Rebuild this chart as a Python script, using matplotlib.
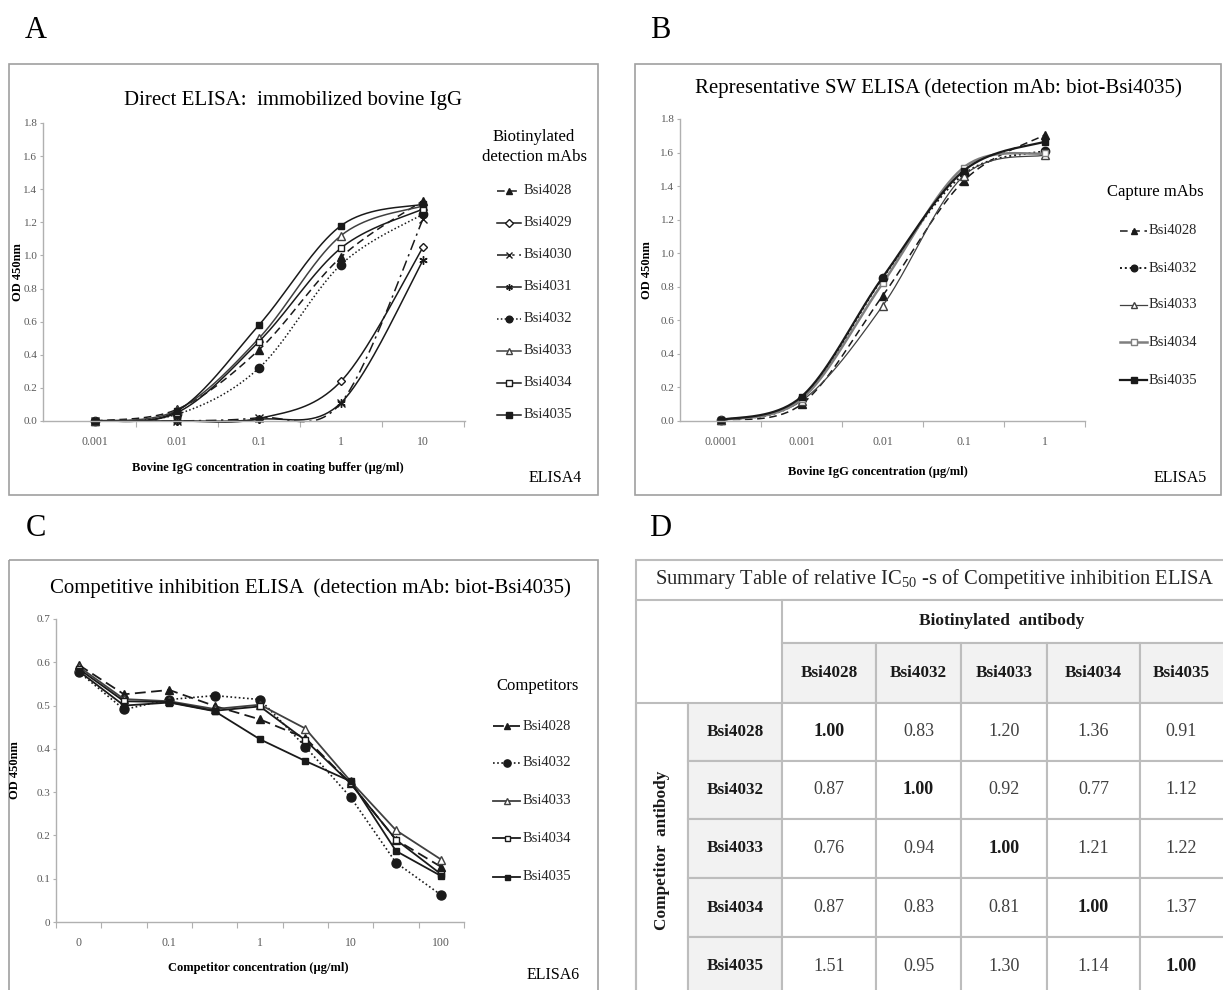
import numpy as np
import matplotlib
matplotlib.use('Agg')
import matplotlib.pyplot as plt
from matplotlib.lines import Line2D
from matplotlib.patches import Rectangle
from matplotlib.ticker import FixedLocator, NullFormatter, FixedFormatter

plt.rcParams['font.family'] = ['Liberation Serif', 'DejaVu Serif']
plt.rcParams['mathtext.fontset'] = 'custom'
plt.rcParams['mathtext.rm'] = 'Liberation Serif'

W, H = 1223, 990

# ---------------- data ----------------
# Panel A: direct ELISA
conc_a = [0.001, 0.01, 0.1, 1, 10]
a_4028 = [0.0, 0.07, 0.43, 0.99, 1.33]
a_4029 = [0.0, 0.0, 0.015, 0.24, 1.05]
a_4030 = [0.0, 0.0, 0.02, 0.11, 1.22]
a_4031 = [0.0, 0.0, 0.01, 0.11, 0.97]
a_4032 = [0.0, 0.04, 0.32, 0.945, 1.25]
a_4033 = [0.0, 0.065, 0.50, 1.12, 1.30]
a_4034 = [0.0, 0.05, 0.48, 1.045, 1.28]
a_4035 = [0.0, 0.06, 0.58, 1.18, 1.31]
a_xticklabels = ['0.001', '0.01', '0.1', '1', '10']

# Panel B: sandwich ELISA
conc_b = [0.0001, 0.001, 0.01, 0.1, 1]
b_4028 = [0.005, 0.10, 0.745, 1.43, 1.705]
b_4032 = [0.005, 0.13, 0.85, 1.47, 1.61]
b_4033 = [0.005, 0.12, 0.685, 1.46, 1.585]
b_4034 = [0.005, 0.13, 0.82, 1.51, 1.595]
b_4035 = [0.005, 0.145, 0.855, 1.49, 1.665]
b_xticklabels = ['0.0001', '0.001', '0.01', '0.1', '1']

# Panel C: competitive inhibition ELISA
cat_c = ['0', '0.03', '0.1', '0.3', '1', '3', '10', '30', '100']
c_4028 = [0.594, 0.526, 0.536, 0.499, 0.468, 0.425, 0.320, 0.190, 0.127]
c_4032 = [0.578, 0.491, 0.514, 0.523, 0.514, 0.405, 0.288, 0.137, 0.062]
c_4033 = [0.590, 0.515, 0.510, 0.492, 0.502, 0.447, 0.325, 0.212, 0.144]
c_4034 = [0.585, 0.510, 0.508, 0.488, 0.498, 0.420, 0.320, 0.190, 0.110]
c_4035 = [0.580, 0.500, 0.507, 0.487, 0.422, 0.372, 0.325, 0.164, 0.106]
c_shown_labels = ['0', '0.1', '1', '10', '100']

# Panel D: table
tbl_cols = ['Bsi4028', 'Bsi4032', 'Bsi4033', 'Bsi4034', 'Bsi4035']
tbl_rows = ['Bsi4028', 'Bsi4032', 'Bsi4033', 'Bsi4034', 'Bsi4035']
ic50 = [[1.00, 0.83, 1.20, 1.36, 0.91],
        [0.87, 1.00, 0.92, 0.77, 1.12],
        [0.76, 0.94, 1.00, 1.21, 1.22],
        [0.87, 0.83, 0.81, 1.00, 1.37],
        [1.51, 0.95, 1.30, 1.14, 1.00]]

# ---------------- styles ----------------
K = '#1a1a1a'
GR = '#7f7f7f'
styles_a = {
    'Bsi4028': dict(ls=(0, (5, 3)), marker='^', mfc=K, color=K, ms=6),
    'Bsi4029': dict(ls='-', marker='D', mfc='white', color=K, ms=4.5),
    'Bsi4030': dict(ls=(0, (7, 3, 1.5, 3)), marker='x', mfc=K, color=K, ms=6),
    'Bsi4031': dict(ls='-', marker=(6, 2, 0), mfc=K, color=K, ms=6),
    'Bsi4032': dict(ls=(0, (1, 1.5)), marker='o', mfc=K, color=K, ms=6),
    'Bsi4033': dict(ls='-', marker='^', mfc='white', color='#404040', ms=6),
    'Bsi4034': dict(ls='-', marker='s', mfc='white', color=K, ms=5),
    'Bsi4035': dict(ls='-', marker='s', mfc=K, color=K, ms=5),
}
styles_b = {
    'Bsi4028': dict(ls=(0, (5, 3)), marker='^', mfc=K, color=K, ms=6, lw=1.1),
    'Bsi4032': dict(ls=(0, (1, 1.5)), marker='o', mfc=K, color=K, ms=6, lw=1.4),
    'Bsi4033': dict(ls='-', marker='^', mfc='white', color='#404040', ms=6, lw=0.9),
    'Bsi4034': dict(ls='-', marker='s', mfc='white', color=GR, ms=5, lw=1.8),
    'Bsi4035': dict(ls='-', marker='s', mfc=K, color=K, ms=5, lw=1.6),
}
styles_c = {
    'Bsi4028': dict(ls=(0, (6, 3)), marker='^', mfc=K, color=K, ms=6, lw=1.3),
    'Bsi4032': dict(ls=(0, (1, 1.5)), marker='o', mfc=K, color=K, ms=6.5, lw=1.2),
    'Bsi4033': dict(ls='-', marker='^', mfc='white', color='#404040', ms=6, lw=1.3),
    'Bsi4034': dict(ls='-', marker='s', mfc='white', color=K, ms=4.5, lw=1.3),
    'Bsi4035': dict(ls='-', marker='s', mfc=K, color=K, ms=4.5, lw=1.3),
}

fig = plt.figure(figsize=(W / 100, H / 100), dpi=100)
fig.patch.set_facecolor('white')

def px_axes(l, t, r, b):
    return fig.add_axes([l / W, 1 - b / H, (r - l) / W, (b - t) / H])

# overlay for frames, texts, legends and the table (pixel coordinates)
ov = fig.add_axes([0, 0, 1, 1])
ov.set_xlim(0, W)
ov.set_ylim(H, 0)
ov.axis('off')
ov.set_zorder(0)

FRAME = '#a0a0a0'
TICKC = '#595959'
TITLE_FS = 15

def smooth(xl, ys, n=40):
    P = np.column_stack([xl, ys]).astype(float)
    out = []
    for i in range(len(P) - 1):
        p0 = P[i - 1] if i > 0 else P[i]
        p1, p2 = P[i], P[i + 1]
        p3 = P[i + 2] if i + 2 < len(P) else P[i + 1]
        t = np.linspace(0, 1, n)[:, None]
        c1 = p1 + (p2 - p0) / 6.0
        c2 = p2 - (p3 - p1) / 6.0
        seg = (1 - t) ** 3 * p1 + 3 * (1 - t) ** 2 * t * c1 + 3 * (1 - t) * t ** 2 * c2 + t ** 3 * p2
        out.append(seg if i == 0 else seg[1:])
    return np.vstack(out)

def style_axes(ax):
    ax.set_facecolor('none')
    for s in ['top', 'right']:
        ax.spines[s].set_visible(False)
    for s in ['left', 'bottom']:
        ax.spines[s].set_color('#b0b0b0')
        ax.spines[s].set_linewidth(1.0)
    ax.tick_params(axis='y', which='major', direction='out', length=2.5, width=0.8,
                   colors='#b0b0b0', labelcolor=TICKC, labelsize=8, pad=1.5)
    ax.tick_params(axis='x', which='major', length=0, labelcolor=TICKC, labelsize=8.5, pad=11)
    ax.tick_params(axis='x', which='minor', direction='out', length=4, width=0.8, colors='#b0b0b0')

def panel_frame(l, t, r, b):
    ov.add_patch(Rectangle((l, t), r - l, b - t, fill=False, ec=FRAME, lw=1.2))

def legend_entries(x0, x1, xt, ys, names, styles, fs=10.5):
    for y, nm in zip(ys, names):
        st = styles[nm]
        ov.add_line(Line2D([x0, x1], [y, y], ls=st['ls'], color=st['color'],
                           lw=st.get('lw', 1.1)))
        ov.add_line(Line2D([(x0 + x1) / 2], [y], ls='none', marker=st['marker'],
                           mfc=st['mfc'], mec=st['color'], ms=st['ms'] * 0.8, mew=1.0))
        ov.text(xt, y, nm, fontsize=fs, va='center', ha='left', color='#262626')

# ---------------- Panel A ----------------
panel_frame(9, 64, 598, 495)
ov.text(36, 30, 'A', fontsize=22, ha='center', va='center')
ov.text(293, 100, 'Direct ELISA:  immobilized bovine IgG', fontsize=TITLE_FS, ha='center', va='center')
axA = px_axes(43, 123, 465, 421)
style_axes(axA)
axA.set_xscale('log')
axA.set_xlim(10 ** -3.634, 10 ** 1.512)
axA.set_ylim(0, 1.8)
axA.set_yticks(np.arange(0, 1.81, 0.2))
axA.set_yticklabels([f'{v:.1f}' for v in np.arange(0, 1.81, 0.2)])
axA.xaxis.set_major_locator(FixedLocator(conc_a))
axA.xaxis.set_major_formatter(FixedFormatter(a_xticklabels))
axA.xaxis.set_minor_locator(FixedLocator([10 ** (k + 0.5) for k in range(-3, 2)]))
axA.xaxis.set_minor_formatter(NullFormatter())
series_a = [('Bsi4028', a_4028), ('Bsi4029', a_4029), ('Bsi4030', a_4030), ('Bsi4031', a_4031),
            ('Bsi4032', a_4032), ('Bsi4033', a_4033), ('Bsi4034', a_4034), ('Bsi4035', a_4035)]
for nm, ys in series_a:
    st = styles_a[nm]
    sm = smooth(np.log10(conc_a), ys)
    axA.plot(10 ** sm[:, 0], sm[:, 1], ls=st['ls'], color=st['color'], lw=1.1, clip_on=False)
    axA.plot(conc_a, ys, ls='none', marker=st['marker'], mfc=st['mfc'], mec=st['color'],
             ms=st['ms'], mew=1.0, clip_on=False)
ov.text(18, 272, 'OD 450nm', fontsize=9, fontweight='bold', rotation=90, ha='center', va='center')
ov.text(268, 468, 'Bovine IgG concentration in coating buffer (\u03bcg/ml)', fontsize=9,
        fontweight='bold', ha='center', va='center')
ov.text(555, 478, 'ELISA4', fontsize=11.5, ha='center', va='center')
ov.text(534, 137, 'Biotinylated', fontsize=12, ha='center', va='center')
ov.text(534, 157, 'detection mAbs', fontsize=12, ha='center', va='center')
legend_entries(497, 521, 524, [191, 223, 255, 287, 319, 351, 383, 415],
               [s[0] for s in series_a], styles_a)

# ---------------- Panel B ----------------
panel_frame(635, 64, 1221, 495)
ov.text(660, 30, 'B', fontsize=22, ha='center', va='center')
ov.text(938, 88, 'Representative SW ELISA (detection mAb: biot-Bsi4035)', fontsize=TITLE_FS,
        ha='center', va='center')
axB = px_axes(680, 119, 1085, 421)
style_axes(axB)
axB.set_xscale('log')
axB.set_xlim(10 ** -4.5, 10 ** 0.5)
axB.set_ylim(0, 1.8)
axB.set_yticks(np.arange(0, 1.81, 0.2))
axB.set_yticklabels([f'{v:.1f}' for v in np.arange(0, 1.81, 0.2)])
axB.xaxis.set_major_locator(FixedLocator(conc_b))
axB.xaxis.set_major_formatter(FixedFormatter(b_xticklabels))
axB.xaxis.set_minor_locator(FixedLocator([10 ** (k + 0.5) for k in range(-4, 1)]))
axB.xaxis.set_minor_formatter(NullFormatter())
series_b = [('Bsi4028', b_4028), ('Bsi4032', b_4032), ('Bsi4033', b_4033),
            ('Bsi4034', b_4034), ('Bsi4035', b_4035)]
for nm, ys in series_b:
    st = styles_b[nm]
    sm = smooth(np.log10(conc_b), ys)
    axB.plot(10 ** sm[:, 0], sm[:, 1], ls=st['ls'], color=st['color'], lw=st['lw'], clip_on=False)
    axB.plot(conc_b, ys, ls='none', marker=st['marker'], mfc=st['mfc'], mec=st['color'],
             ms=st['ms'], mew=1.0, clip_on=False)
ov.text(647, 270, 'OD 450nm', fontsize=9, fontweight='bold', rotation=90, ha='center', va='center')
ov.text(878, 472, 'Bovine IgG concentration (\u03bcg/ml)', fontsize=9, fontweight='bold',
        ha='center', va='center')
ov.text(1180, 478, 'ELISA5', fontsize=11.5, ha='center', va='center')
ov.text(1155, 192, 'Capture mAbs', fontsize=12, ha='center', va='center')
legend_entries(1120, 1147, 1149, [231, 268, 305, 342, 380], [s[0] for s in series_b], styles_b)

# ---------------- Panel C ----------------
panel_frame(9, 560, 598, 1000)
ov.text(36, 528, 'C', fontsize=22, ha='center', va='center')
ov.text(310, 588, 'Competitive inhibition ELISA  (detection mAb: biot-Bsi4035)', fontsize=TITLE_FS,
        ha='center', va='center')
axC = px_axes(56, 619, 464, 922)
style_axes(axC)
xc = np.arange(len(cat_c))
axC.set_xlim(-0.5, len(cat_c) - 0.5)
axC.set_ylim(0, 0.7)
yt = np.arange(0, 0.71, 0.1)
axC.set_yticks(yt)
axC.set_yticklabels(['0'] + [f'{v:.1f}' for v in yt[1:]])
axC.xaxis.set_major_locator(FixedLocator(xc[::2]))
axC.xaxis.set_major_formatter(FixedFormatter(c_shown_labels))
axC.xaxis.set_minor_locator(FixedLocator(np.arange(-0.5, len(cat_c), 1.0)))
axC.xaxis.set_minor_formatter(NullFormatter())
series_c = [('Bsi4028', c_4028), ('Bsi4032', c_4032), ('Bsi4033', c_4033),
            ('Bsi4034', c_4034), ('Bsi4035', c_4035)]
for nm, ys in series_c:
    st = styles_c[nm]
    axC.plot(xc, ys, ls=st['ls'], color=st['color'], lw=st['lw'], marker=st['marker'],
             mfc=st['mfc'], mec=st['color'], ms=st['ms'], mew=1.0, clip_on=False)
ov.text(15, 770, 'OD 450nm', fontsize=9, fontweight='bold', rotation=90, ha='center', va='center')
ov.text(258, 968, 'Competitor concentration (\u03bcg/ml)', fontsize=9, fontweight='bold',
        ha='center', va='center')
ov.text(553, 975, 'ELISA6', fontsize=11.5, ha='center', va='center')
ov.text(538, 686, 'Competitors', fontsize=12, ha='center', va='center')
legend_entries(493, 520, 523, [726, 763, 801, 838, 877], [s[0] for s in series_c], styles_c)

# ---------------- Panel D (table) ----------------
ov.text(660, 528, 'D', fontsize=22, ha='center', va='center')
GRID = '#bdbdbd'
HDR = '#f2f2f2'
tx = [636, 688, 782, 876, 961, 1047, 1140, 1226]
ty_rows = [703, 761, 819, 878, 937, 996]
# title row
ov.add_patch(Rectangle((636, 560), 600, 40, fc='white', ec=GRID, lw=1.5))
ov.text(655, 579, 'Summary Table of relative IC$_{\\mathregular{50}}$ -s of Competitive inhibition ELISA',
        fontsize=14.8, ha='left', va='center', color='#262626')
# biotinylated antibody row
ov.add_patch(Rectangle((tx[2], 600), tx[-1] - tx[2], 43, fc='white', ec=GRID, lw=1.5))
ov.text((tx[2] + 1222) / 2, 621, 'Biotinylated  antibody', fontsize=12.5, fontweight='bold',
        ha='center', va='center', color='#1a1a1a')
# column headers
for j, nm in enumerate(tbl_cols):
    x0, x1 = tx[2 + j], tx[3 + j]
    ov.add_patch(Rectangle((x0, 643), x1 - x0, 60, fc=HDR, ec=GRID, lw=1.5))
    ov.text((x0 + min(x1, 1223)) / 2, 673, nm, fontsize=12.3, fontweight='bold',
            ha='center', va='center', color='#1a1a1a')
# left blank block border
ov.add_line(Line2D([636, 636], [600, 996], color=GRID, lw=1.5))
# competitor antibody column
ov.add_patch(Rectangle((tx[0], 703), tx[1] - tx[0], 293, fc='white', ec=GRID, lw=1.5))
ov.text(662, 850, 'Competitor  antibody', fontsize=12.4, fontweight='bold', rotation=90,
        ha='center', va='center', color='#1a1a1a')
for i, rn in enumerate(tbl_rows):
    y0, y1 = ty_rows[i], ty_rows[i + 1]
    ov.add_patch(Rectangle((tx[1], y0), tx[2] - tx[1], y1 - y0, fc=HDR, ec=GRID, lw=1.5))
    ov.text((tx[1] + tx[2]) / 2, (y0 + y1) / 2, rn, fontsize=12.3, fontweight='bold',
            ha='center', va='center', color='#1a1a1a')
    for j in range(len(tbl_cols)):
        x0, x1 = tx[2 + j], tx[3 + j]
        ov.add_patch(Rectangle((x0, y0), x1 - x0, y1 - y0, fc='white', ec=GRID, lw=1.5))
        ov.text((x0 + min(x1, 1223)) / 2, (y0 + y1) / 2, f'{ic50[i][j]:.2f}', fontsize=13,
                fontweight='bold' if i == j else 'normal', ha='center', va='center',
                color='#1a1a1a' if i == j else '#404040')

fig.savefig('out.png', dpi=100, facecolor='white')
